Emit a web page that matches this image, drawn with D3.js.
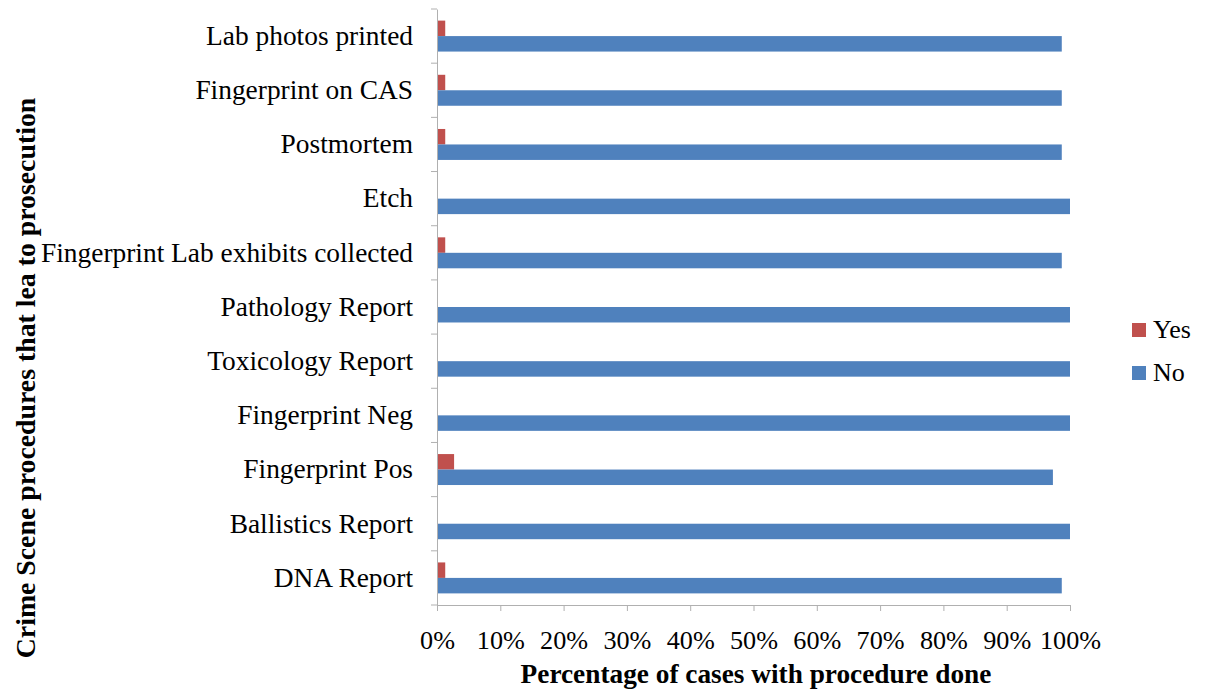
<!DOCTYPE html>
<html>
<head>
<meta charset="utf-8">
<script src="https://cdn.jsdelivr.net/npm/d3@7/dist/d3.min.js"></script>
<style>
  html, body { margin: 0; padding: 0; background: #fff; }
  svg { display: block; font-family: "Liberation Serif", "Times New Roman", serif; }
</style>
</head>
<body>
<svg id="chart" width="1207" height="693"></svg>
<script>
// Procedures, listed top to bottom
const categories = [
  "Lab photos printed",
  "Fingerprint on CAS",
  "Postmortem",
  "Etch",
  "Fingerprint Lab exhibits collected",
  "Pathology Report",
  "Toxicology Report",
  "Fingerprint Neg",
  "Fingerprint Pos",
  "Ballistics Report",
  "DNA Report"
];
// Share of cases (%) per procedure
const yesValues = [1.3, 1.3, 1.3, 0, 1.3, 0, 0, 0, 2.7, 0, 1.3];
const noValues  = [98.7, 98.7, 98.7, 100, 98.7, 100, 100, 100, 97.3, 100, 98.7];
const xTicks = [0, 10, 20, 30, 40, 50, 60, 70, 80, 90, 100];
const seriesNames = ["Yes", "No"];
const seriesColors = ["#c0504d", "#4f81bd"];

const serif = "'Liberation Serif', 'Times New Roman', serif";
const svg = d3.select("#chart");
const plotLeft = 437, plotRight = 1070, plotTop = 9, plotBottom = 605;

const x = d3.scaleLinear().domain([0, 100]).range([plotLeft, plotRight]);
const y = d3.scaleBand().domain(categories).range([plotTop, plotBottom]).paddingInner(0).paddingOuter(0);
const bandInner = d3.scaleBand().domain(seriesNames)
  .range([0, y.bandwidth()]).paddingInner(0).paddingOuter(0.75);

const rows = categories.map((c, i) => ({ cat: c, Yes: yesValues[i], No: noValues[i] }));

// bars
const g = svg.append("g");
seriesNames.forEach((s, si) => {
  g.selectAll("rect.s" + si)
    .data(rows)
    .enter().append("rect")
    .attr("class", "s" + si)
    .attr("x", x(0))
    .attr("y", d => y(d.cat) + bandInner(s))
    .attr("width", d => x(d[s]) - x(0))
    .attr("height", bandInner.bandwidth())
    .attr("fill", seriesColors[si]);
});

// y axis
const yAxis = d3.axisLeft(y).tickSize(0).tickSizeOuter(0).tickPadding(24);
const yg = svg.append("g").attr("transform", `translate(${plotLeft},0)`).call(yAxis)
  .attr("font-family", serif).attr("font-size", 27.4);
yg.selectAll("text").attr("fill", "#000");
yg.select(".domain").attr("stroke", "#b0b0b0");
// category boundary ticks
const bounds = d3.range(categories.length + 1).map(i => plotTop + i * y.step());
svg.append("g").selectAll("line").data(bounds).enter().append("line")
  .attr("x1", plotLeft - 6).attr("x2", plotLeft)
  .attr("y1", d => d).attr("y2", d => d)
  .attr("stroke", "#b0b0b0");

// x axis
const xAxis = d3.axisBottom(x).tickValues(xTicks).tickFormat(d => d + "%")
  .tickSize(6).tickSizeOuter(0).tickPadding(19);
const xg = svg.append("g").attr("transform", `translate(0,${plotBottom})`).call(xAxis)
  .attr("font-family", serif).attr("font-size", 26.2);
xg.selectAll("text").attr("fill", "#000");
xg.select(".domain").attr("stroke", "#b0b0b0");
xg.selectAll(".tick line").attr("stroke", "#b0b0b0");

// axis titles
svg.append("text")
  .attr("x", 756).attr("y", 683)
  .attr("text-anchor", "middle").attr("font-size", 27.3).attr("font-weight", "bold")
  .text("Percentage of cases with procedure done");
svg.append("text")
  .attr("transform", "translate(35,378) rotate(-90)")
  .attr("text-anchor", "middle").attr("font-size", 27.8).attr("font-weight", "bold")
  .text("Crime Scene procedures that lea to prosecution");

// legend
const lg = svg.append("g").attr("transform", "translate(1132,323)");
seriesNames.forEach((s, i) => {
  const row = lg.append("g").attr("transform", `translate(0,${i * 43})`);
  row.append("rect").attr("width", 14).attr("height", 14).attr("fill", seriesColors[i]);
  row.append("text").attr("x", 21).attr("y", 15).attr("font-size", 26).text(s);
});
</script>
</body>
</html>
